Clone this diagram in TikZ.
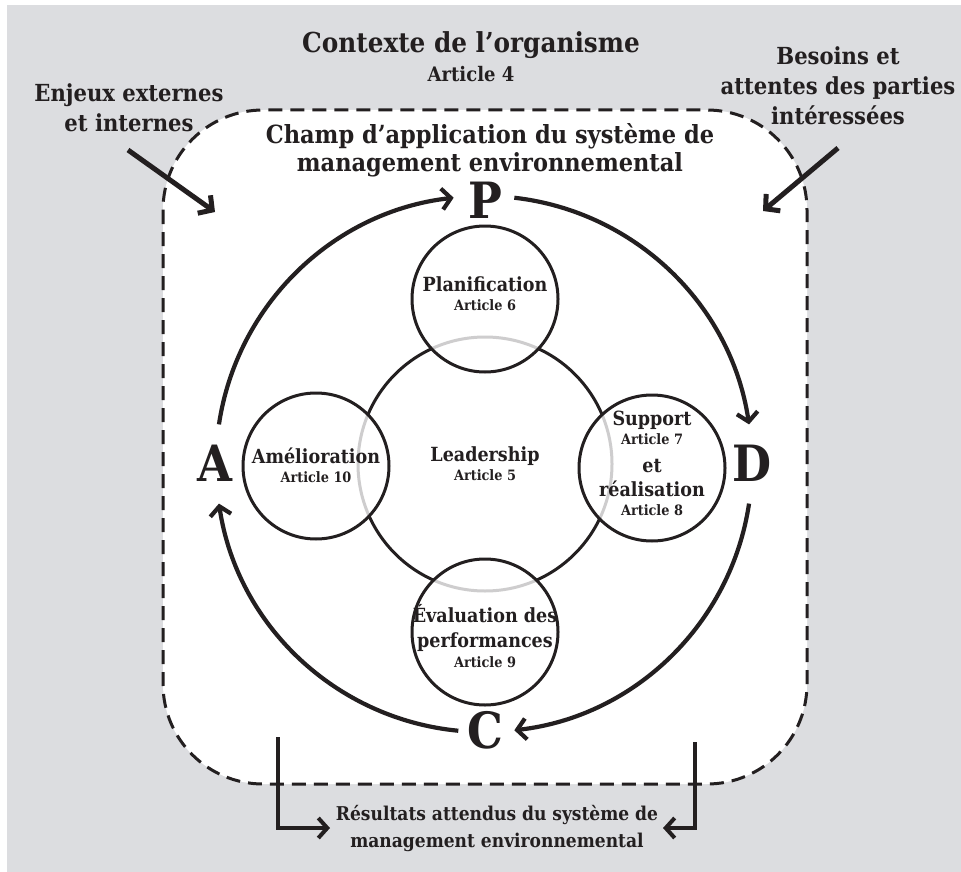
\documentclass[tikz,border=0pt]{standalone}
\usepackage{fontspec}
\setmainfont{DejaVu Serif Condensed}
\usetikzlibrary{arrows.meta}
\definecolor{ink}{HTML}{231F20}
\definecolor{bg}{HTML}{DCDDE0}
\newcommand{\fs}[2]{\fontsize{#1}{#2}\selectfont\bfseries}
\newcommand{\art}[1]{{\fs{14.3}{16}#1}}
\begin{document}
\begin{tikzpicture}[x=1pt,y=-1pt,
  txt/.style={text=ink,align=center,inner sep=0pt},
  ctxt/.style={txt,font=\fs{19.5}{22}},
  phase/.style={circle,draw=ink,line width=3pt,fill=white,fill opacity=0.78,minimum size=146pt,inner sep=0pt},
  cyc/.style={draw=ink,line width=4.2pt,-{Straight Barb[length=9pt,width=21pt,line width=4.2pt]}},
  ext/.style={draw=ink,line width=5pt,-{Straight Barb[length=10pt,width=22pt,line width=5pt]}},
  brk/.style={draw=ink,line width=4pt,-{Straight Barb[length=9pt,width=20pt,line width=4pt]}},
  letter/.style={text=ink,inner sep=0pt,font=\fs{50}{50}}]
\useasboundingbox (0,0) rectangle (961,872);
\fill[white] (0,0) rectangle (961,872);
\fill[bg] (7,5) rectangle (961,872);
% scope box
\draw[ink,line width=3pt,dash pattern=on 14pt off 8pt,fill=white,rounded corners=100pt] (163,110) rectangle (807,784);
% titles
\node[txt,font=\fs{27.5}{30}] (ctx) at (471,45) {Contexte de l’organisme};
\node[txt,font=\fs{20}{22}] (ctxa) at (471,74) {Article 4};
\node[txt,font=\fs{23.5}{30}] (enj) at (129,108) {Enjeux externes\\et internes};
\node[txt,font=\fs{23.5}{30}] (bes) at (838,86) {Besoins et\\attentes des parties\\intéressées};
\node[txt,font=\fs{25}{28}] (champ) at (490,150) {Champ d’application du système de\\management environnemental};
% circles
\coordinate (O) at (484,464);
\node[circle,draw=ink,line width=3pt,minimum size=254pt,inner sep=0pt] (lead) at (485,464) {};
\node[phase] (plan) at (485,299) {};
\node[phase] (amel) at (316,466) {};
\node[phase] (supp) at (652,468) {};
\node[phase] (eval) at (485,632) {};
\node[ctxt] (leadt) at (lead.center) {Leadership\\[-3pt]\art{Article 5}};
\node[ctxt] (plant) at ([yshift=5pt]plan.center) {Planification\\[-3pt]\art{Article 6}};
\node[ctxt] (amelt) at ([yshift=1pt]amel.center) {Amélioration\\[-3pt]\art{Article 10}};
\node[ctxt] (suppt) at ([yshift=5pt]supp.center) {Support\\[-3pt]\art{Article 7}\\[6pt]et\\[2pt]réalisation\\[-3pt]\art{Article 8}};
\node[ctxt] (evalt) at ([yshift=-4pt]eval.center) {Évaluation des\\[3pt]performances\\[-2pt]\art{Article 9}};
% PDCA letters
\node[letter] (P) at (485,200) {P};
\node[letter] (A) at (215,463) {A};
\node[letter] (D) at (752,463) {D};
\node[letter] (C) at (485,730) {C};
% cycle arcs (y axis points down, so angles are negated)
\draw[cyc] ([shift={(O)}]-171.5:268) arc[start angle=-171.5,end angle=-96.5,radius=268];
\draw[cyc] ([shift={(O)}]-83.5:268) arc[start angle=-83.5,end angle=-8.5,radius=268];
\draw[cyc] ([shift={(O)}]8.5:268) arc[start angle=8.5,end angle=83.5,radius=268];
\draw[cyc] ([shift={(O)}]95.5:268) arc[start angle=95.5,end angle=171.5,radius=268];
% external arrows
\coordinate (enjT) at (128,150);
\coordinate (enjH) at (215,212);
\coordinate (besT) at (838,148);
\coordinate (besH) at (763,211);
\draw[ext] (enjT) -- (enjH);
\draw[ext] (besT) -- (besH);
% results
\node[txt,font=\fs{19}{27}] (res) at (497,829) {Résultats attendus du système de\\management environnemental};
\coordinate (l1) at (278,737);
\coordinate (l2) at (330,828);
\coordinate (r1) at (695,742);
\coordinate (r2) at (663,828);
\draw[brk] (l1) |- (l2);
\draw[brk] (r1) |- (r2);
\end{tikzpicture}
\end{document}
